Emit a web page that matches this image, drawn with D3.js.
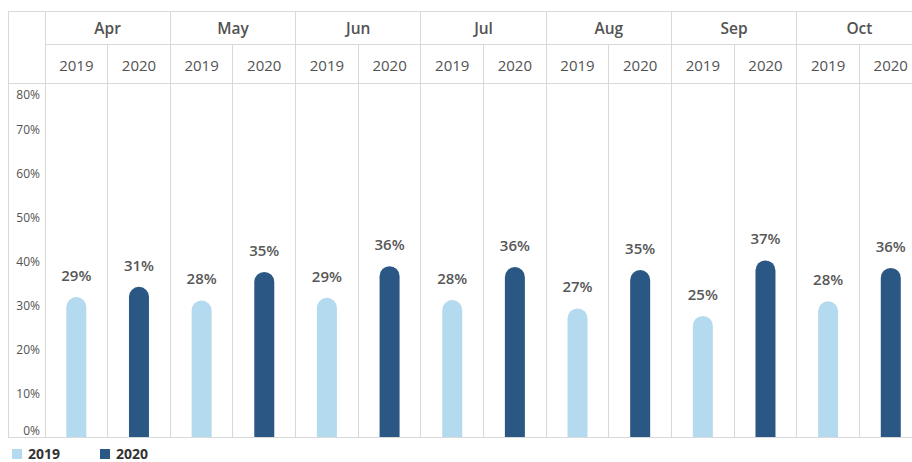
<!DOCTYPE html>
<html>
<head>
<meta charset="utf-8">
<script src="https://cdn.jsdelivr.net/npm/d3@7/dist/d3.min.js"></script>
<style>
  html, body { margin: 0; padding: 0; background: #fff; }
  svg { display: block; font-family: "Open Sans", "Noto Sans", sans-serif; }
</style>
</head>
<body>
<svg id="chart" width="912" height="462"></svg>
<script>
// ---- data ----
const months = ["Apr", "May", "Jun", "Jul", "Aug", "Sep", "Oct"];
const years = ["2019", "2020"];
const values2019 = [0.291, 0.283, 0.289, 0.284, 0.265, 0.248, 0.281];
const values2020 = [0.314, 0.348, 0.361, 0.359, 0.352, 0.374, 0.357];
const yTicks = [0, 0.1, 0.2, 0.3, 0.4, 0.5, 0.6, 0.7, 0.8];
const colors = { "2019": "#b4daef", "2020": "#2a5783" };

const data = [];
months.forEach((m, i) => {
  data.push({ month: m, year: "2019", value: values2019[i] });
  data.push({ month: m, year: "2020", value: values2020[i] });
});

// ---- layout ----
const W = 912, H = 462;
const frameLeft = 8, axisRight = 45;
const topY = 11, midY = 44, paneTop = 83, baseY = 437;
const monthW = 125.3;
const gridColor = "#d9d9d9";
const textColor = "#525252";

const svg = d3.select("#chart");

const x0 = d3.scaleBand().domain(months).range([axisRight, axisRight + monthW * months.length]).paddingInner(0).paddingOuter(0);
const x1 = d3.scaleBand().domain(years).range([0, x0.bandwidth()]);
const y = d3.scaleLinear().domain([0, 0.8]).range([baseY, 85]);

const g = svg.append("g");

// frame lines
g.append("line").attr("x1", frameLeft).attr("x2", W).attr("y1", topY).attr("y2", topY);
g.append("line").attr("x1", axisRight).attr("x2", W).attr("y1", midY).attr("y2", midY);
g.append("line").attr("x1", frameLeft).attr("x2", W).attr("y1", paneTop).attr("y2", paneTop);
g.append("line").attr("x1", frameLeft).attr("x2", W).attr("y1", baseY).attr("y2", baseY);
g.append("line").attr("x1", frameLeft).attr("x2", frameLeft).attr("y1", topY).attr("y2", baseY);

// month boundaries
months.forEach(m => {
  g.append("line").attr("x1", x0(m)).attr("x2", x0(m)).attr("y1", topY).attr("y2", baseY);
  g.append("line").attr("x1", x0(m) + x1("2020")).attr("x2", x0(m) + x1("2020")).attr("y1", midY).attr("y2", baseY);
});
g.selectAll("line").attr("stroke", gridColor).attr("stroke-width", 1).attr("shape-rendering", "crispEdges");

// header text
svg.append("g").selectAll("text").data(months).join("text")
  .attr("x", d => x0(d) + x0.bandwidth() / 2)
  .attr("y", 33.5)
  .attr("text-anchor", "middle")
  .attr("font-size", 15.5)
  .attr("font-weight", 600)
  .attr("fill", textColor)
  .text(d => d);

const yearCells = [];
months.forEach(m => years.forEach(yr => yearCells.push({ m, yr })));
svg.append("g").selectAll("text").data(yearCells).join("text")
  .attr("x", d => x0(d.m) + x1(d.yr) + x1.bandwidth() / 2)
  .attr("y", 71)
  .attr("text-anchor", "middle")
  .attr("font-size", 15)
  .attr("font-weight", 500)
  .attr("fill", textColor)
  .text(d => d.yr);

// y axis labels (clamped inside the pane like the original)
svg.append("g").selectAll("text").data(yTicks).join("text")
  .attr("x", 40)
  .attr("y", d => Math.max(paneTop + 11, Math.min(baseY - 7, y(d))) + 4.5)
  .attr("text-anchor", "end")
  .attr("font-size", 12)
  .attr("font-weight", 500)
  .attr("fill", textColor)
  .text(d => d3.format(".0%")(d));

// bars with rounded tops
const bw = 20, r = bw / 2, capLift = 2;
function barPath(d) {
  const cx = x0(d.month) + x1(d.year) + x1.bandwidth() / 2;
  const left = cx - r, right = cx + r;
  const yc = y(d.value) - capLift;
  return `M${left},${baseY} L${left},${yc} A${r},${r} 0 0 1 ${right},${yc} L${right},${baseY} Z`;
}
svg.append("g").selectAll("path").data(data).join("path")
  .attr("d", barPath)
  .attr("fill", d => colors[d.year]);

// value labels
svg.append("g").selectAll("text").data(data).join("text")
  .attr("x", d => x0(d.month) + x1(d.year) + x1.bandwidth() / 2)
  .attr("y", d => y(d.value) - capLift - r - 16)
  .attr("text-anchor", "middle")
  .attr("font-size", 15)
  .attr("font-weight", 600)
  .attr("fill", "#575757")
  .text(d => d3.format(".0%")(d.value));

// legend
const legend = svg.append("g");
const legendItems = [{ yr: "2019", x: 12 }, { yr: "2020", x: 100 }];
legend.selectAll("rect").data(legendItems).join("rect")
  .attr("x", d => d.x).attr("y", 449).attr("width", 10).attr("height", 10)
  .attr("fill", d => colors[d.yr]);
legend.selectAll("text").data(legendItems).join("text")
  .attr("x", d => d.x + 16).attr("y", 459)
  .attr("font-size", 14)
  .attr("font-weight", 700)
  .attr("fill", "#333")
  .text(d => d.yr);
</script>
</body>
</html>
